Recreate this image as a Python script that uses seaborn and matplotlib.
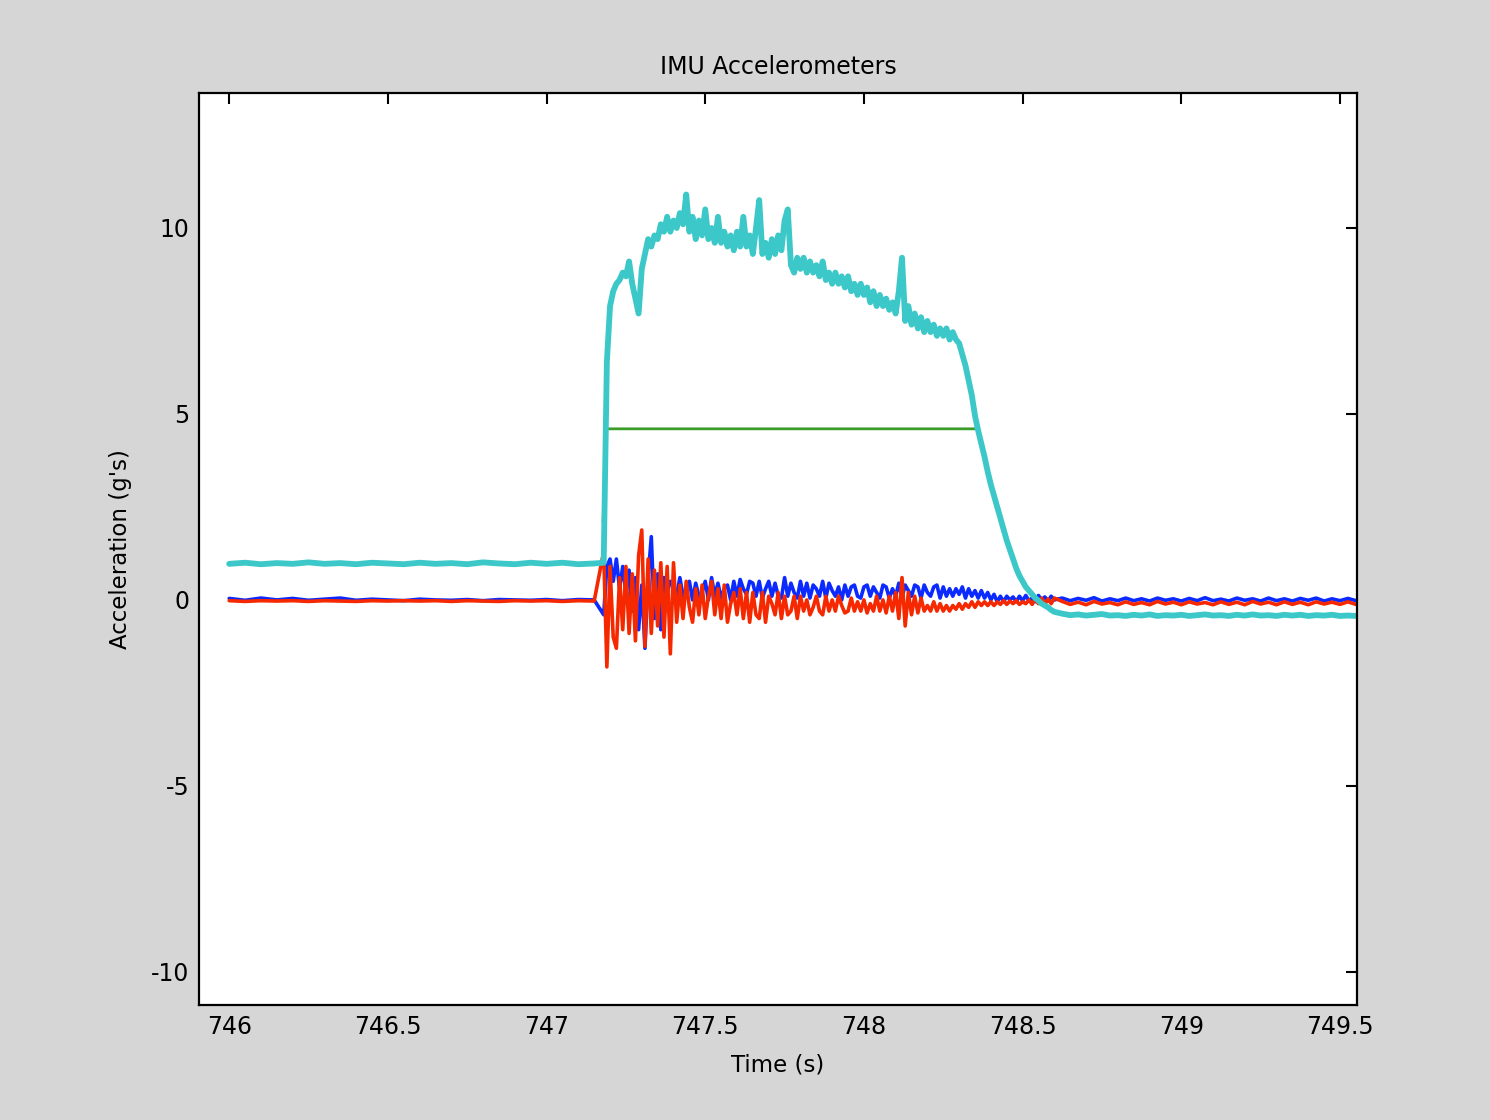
import numpy as np
import pandas as pd
import matplotlib
matplotlib.use("Agg")
import matplotlib.pyplot as plt
import seaborn as sns

# sample clocks: pre-burn (0.05 s), burn (0.01 s), tail (0.025 s)
rest_start, rest_step = 746.00, 0.05
burn_start, burn_step = 747.18, 0.01
tail_start, tail_step = 748.625, 0.025

# z axis (cyan)
cyan_rest = [0.97, 1.0, 0.96, 0.99, 0.97, 1.01, 0.97, 0.99, 0.96, 1.0, 0.98, 0.96,
             1.0, 0.97, 0.99, 0.96, 1.01, 0.98, 0.96, 1.0, 0.97, 1.0, 0.96, 0.98]
cyan_burn = [1.0, 6.4, 7.9, 8.3, 8.5, 8.6, 8.8, 8.7, 9.1, 8.5,
             8.1, 7.7, 8.9, 9.3, 9.7, 9.5, 9.8, 9.7, 10.1, 9.9,
             10.3, 9.9, 10.2, 10.0, 10.4, 10.1, 10.9, 9.9, 10.3, 9.7,
             10.2, 9.8, 10.5, 9.7, 10.0, 9.6, 10.3, 9.6, 9.9, 9.5,
             9.8, 9.4, 9.9, 9.5, 10.3, 9.5, 9.8, 9.3, 10.0, 10.75,
             9.3, 9.6, 9.2, 9.7, 9.3, 9.8, 9.4, 10.2, 10.5, 9.0,
             8.8, 9.2, 8.9, 9.2, 8.8, 9.1, 8.8, 9.0, 8.7, 9.1,
             8.6, 8.8, 8.5, 8.8, 8.5, 8.7, 8.4, 8.7, 8.3, 8.5,
             8.2, 8.5, 8.2, 8.4, 8.0, 8.3, 7.9, 8.2, 7.9, 8.1,
             7.8, 8.0, 7.7, 8.3, 9.2, 7.5, 7.9, 7.4, 7.7, 7.3,
             7.6, 7.2, 7.5, 7.2, 7.4, 7.1, 7.3, 7.1, 7.3, 7.0,
             7.2, 7.0, 6.9, 6.6, 6.3, 5.9, 5.5, 4.95, 4.55, 4.2,
             3.85, 3.45, 3.1, 2.8, 2.5, 2.2, 1.9, 1.6, 1.35, 1.1,
             0.85, 0.65, 0.5, 0.35, 0.25, 0.15, 0.05, -0.02, -0.1, -0.15,
             -0.2, -0.27, -0.32]
cyan_tail = [-0.37, -0.41, -0.39, -0.42, -0.40, -0.38, -0.42, -0.41, -0.43, -0.40,
             -0.42, -0.39, -0.43, -0.41, -0.42, -0.40, -0.43, -0.41, -0.39, -0.42,
             -0.41, -0.43, -0.40, -0.42, -0.39, -0.42, -0.41, -0.43, -0.40, -0.42,
             -0.40, -0.43, -0.41, -0.42, -0.40, -0.43, -0.42, -0.43]

# x axis (blue)
blue_rest = [0.04, -0.01, 0.05, 0.0, 0.04, -0.01, 0.02, 0.05, -0.01, 0.02, 0.0, -0.02,
             0.02, 0.0, -0.01, 0.01, -0.02, 0.01, 0.0, -0.01, 0.01, -0.02, 0.01, 0.0]
blue_burn = [-0.4, 0.9, 1.1, 0.5, 1.1, 0.3, 0.9, 0.2, 0.8, -0.3,
             0.6, -0.8, 0.4, -1.3, 0.6, 1.7, -0.5, 0.7, -0.8, 0.6,
             0.2, 0.5, 0.4, 0.1, 0.6, 0.1, 0.3, 0.5, 0.0, 0.45,
             0.1, 0.2, 0.5, 0.0, 0.6, 0.1, 0.45, 0.05, 0.3, 0.4,
             0.0, 0.5, 0.1, 0.55, 0.3, 0.15, 0.5, 0.45, 0.1, 0.5,
             0.05, 0.3, 0.5, 0.1, 0.45, 0.1, 0.05, 0.6, 0.1, 0.45,
             0.2, 0.05, 0.5, 0.1, 0.45, 0.05, 0.4, 0.3, 0.1, 0.5,
             0.05, 0.45, 0.25, 0.1, 0.35, 0.0, 0.4, 0.1, 0.35, 0.4,
             0.1, 0.05, 0.35, 0.4, 0.1, 0.35, 0.2, 0.05, 0.4, 0.35,
             0.05, 0.3, 0.1, 0.45, 0.05, 0.4, 0.25, 0.1, 0.4, 0.35,
             0.05, 0.4, 0.2, 0.1, 0.35, 0.4, 0.05, 0.35, 0.1, 0.3,
             0.1, 0.3, 0.15, 0.35, 0.05, 0.3, 0.1, 0.25, 0.05, 0.25,
             0.05, 0.2, 0.0, 0.15, -0.05, 0.1, -0.05, 0.1, 0.0, 0.08,
             -0.05, 0.1, -0.02, 0.12, -0.02, 0.05, -0.05, 0.12, 0.0, 0.08,
             -0.03, 0.1, 0.0]
blue_tail = [0.05, -0.02, 0.04, -0.01, 0.06, -0.03, 0.03, -0.02, 0.05, -0.02,
             0.03, -0.03, 0.05, -0.01, 0.03, -0.03, 0.04, -0.02, 0.06, -0.02,
             0.02, -0.03, 0.05, -0.01, 0.03, -0.03, 0.05, -0.02, 0.03, -0.03,
             0.04, -0.01, 0.05, -0.03, 0.03, -0.02, 0.04, -0.02]

# y axis (red)
red_rest = [-0.02, -0.04, -0.02, -0.03, -0.02, -0.04, -0.02, -0.03, -0.04, -0.02, -0.03, -0.02,
            -0.03, -0.02, -0.04, -0.02, -0.03, -0.04, -0.02, -0.03, -0.02, -0.04, -0.02, -0.03]
red_burn = [1.3, -1.8, 0.9, -1.0, -1.3, 0.6, -0.8, 0.9, -0.9, 0.7,
            -1.1, 1.2, 1.88, -1.25, 1.1, -0.9, 0.8, -0.7, 1.0, -1.0,
            0.9, -1.45, 1.0, -0.6, 0.4, -0.5, 0.5, -0.2, -0.6, 0.3,
            -0.4, 0.4, -0.5, 0.1, 0.5, -0.4, 0.3, -0.5, 0.4, -0.6,
            -0.1, 0.2, -0.4, 0.3, -0.5, 0.2, -0.6, 0.2, -0.4, -0.5,
            0.2, -0.6, 0.1, -0.1, -0.4, 0.2, -0.5, 0.1, -0.4, -0.3,
            0.1, -0.5, 0.1, -0.3, 0.0, -0.4, -0.2, 0.1, -0.3, -0.4,
            0.1, -0.3, 0.0, -0.3, 0.1, -0.15, -0.35, -0.3, 0.05, -0.3,
            -0.05, -0.3, 0.0, -0.35, -0.1, -0.3, 0.1, -0.3, 0.0, -0.35,
            0.1, -0.3, 0.2, -0.5, 0.6, -0.7, 0.2, -0.4, 0.1, -0.35,
            0.05, -0.3, -0.15, -0.3, -0.05, -0.3, -0.1, -0.3, -0.15, -0.3,
            -0.15, -0.25, -0.1, -0.25, -0.1, -0.2, -0.05, -0.2, -0.05, -0.15,
            -0.05, -0.15, -0.05, -0.15, -0.05, -0.12, -0.02, -0.12, -0.03, -0.1,
            -0.02, -0.12, -0.05, -0.1, 0.0, -0.12, 0.02, -0.1, 0.05, -0.12,
            0.03, -0.1, 0.05]
red_tail = [-0.04, -0.12, -0.06, -0.13, -0.04, -0.11, -0.07, -0.13, -0.05, -0.12,
            -0.07, -0.13, -0.04, -0.11, -0.06, -0.13, -0.05, -0.11, -0.07, -0.13,
            -0.05, -0.12, -0.06, -0.13, -0.04, -0.11, -0.06, -0.13, -0.05, -0.12,
            -0.06, -0.13, -0.05, -0.11, -0.06, -0.12, -0.05, -0.12]

# green marker line
green_t = [747.178, 747.19, 748.358]
green_v = [2.1, 4.6, 4.6]

xticks = [746, 746.5, 747, 747.5, 748, 748.5, 749, 749.5]
yticks = [-10, -5, 0, 5, 10]


def clock(start, step, n):
    return np.round(start + step * np.arange(n), 3)


def series(rest, burn, tail):
    t = np.concatenate([clock(rest_start, rest_step, len(rest)),
                        clock(burn_start, burn_step, len(burn)),
                        clock(tail_start, tail_step, len(tail))])
    v = np.concatenate([rest, burn, tail])
    return pd.DataFrame({"time": t, "accel": v})


blue = series(blue_rest, blue_burn, blue_tail)
red = series(red_rest, red_burn, red_tail)
cyan = series(cyan_rest, cyan_burn, cyan_tail)
green = pd.DataFrame({"time": green_t, "accel": green_v})

sns.set_theme(style="white")
plt.rcParams["font.family"] = ["DejaVu Sans"]
plt.rcParams["text.color"] = "black"
plt.rcParams["axes.labelcolor"] = "black"

fig = plt.figure(figsize=(14.9, 11.2), dpi=100, facecolor="#d6d6d6")
ax = fig.add_axes([0.1336, 0.1027, 0.7772, 0.8143])
ax.set_facecolor("white")

sns.lineplot(data=blue, x="time", y="accel", color="#0a2aff", linewidth=2.6,
             estimator=None, sort=False, ax=ax)
sns.lineplot(data=red, x="time", y="accel", color="#f52800", linewidth=2.6,
             estimator=None, sort=False, ax=ax)
sns.lineplot(data=green, x="time", y="accel", color="#3c9c28", linewidth=2,
             estimator=None, sort=False, ax=ax)
sns.lineplot(data=cyan, x="time", y="accel", color="#3cc8c8", linewidth=4.2,
             estimator=None, sort=False, ax=ax)

ax.set_xlim(745.905, 749.554)
ax.set_ylim(-10.89, 13.63)
ax.set_xticks(xticks)
ax.set_xticklabels([f"{x:g}" for x in xticks])
ax.set_yticks(yticks)
ax.set_yticklabels([f"{y:g}" for y in yticks])
ax.tick_params(direction="in", length=8, width=1.5, top=True, right=True,
               labelsize=17, pad=7, colors="black")
for s in ax.spines.values():
    s.set_color("black")
    s.set_linewidth(1.6)

ax.set_title("IMU Accelerometers", fontsize=17, pad=14, color="black")
ax.set_xlabel("Time (s)", fontsize=16.5, labelpad=11)
ax.set_ylabel("Acceleration (g's)", fontsize=16.5, labelpad=14)

fig.savefig("out.png", dpi=100, facecolor=fig.get_facecolor())
